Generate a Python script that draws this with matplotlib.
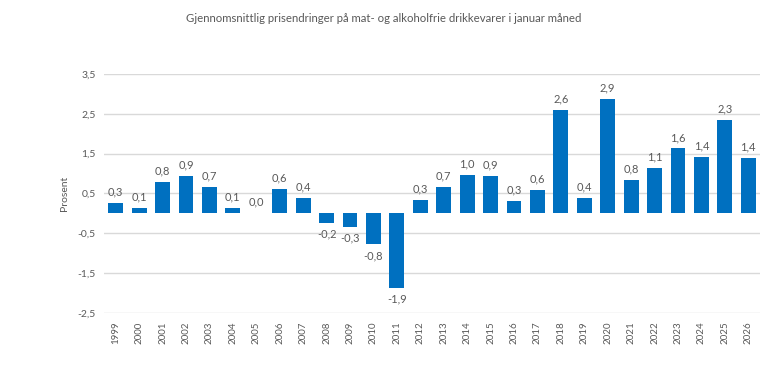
import matplotlib
matplotlib.use("Agg")
import matplotlib.pyplot as plt
import numpy as np

years = [str(y) for y in range(1999, 2027)]
values = [0.27, 0.14, 0.78, 0.95, 0.66, 0.13, 0.0, 0.62, 0.38, -0.24,
          -0.34, -0.78, -1.88, 0.33, 0.66, 0.97, 0.93, 0.31, 0.60, 2.59,
          0.39, 2.88, 0.85, 1.15, 1.63, 1.41, 2.34, 1.40]
labels = ["0,3", "0,1", "0,8", "0,9", "0,7", "0,1", "0,0", "0,6", "0,4", "-0,2",
          "-0,3", "-0,8", "-1,9", "0,3", "0,7", "1,0", "0,9", "0,3", "0,6", "2,6",
          "0,4", "2,9", "0,8", "1,1", "1,6", "1,4", "2,3", "1,4"]
yticks = [-2.5, -1.5, -0.5, 0.5, 1.5, 2.5, 3.5]
title = "Gjennomsnittlig prisendringer på mat- og alkoholfrie drikkevarer i januar måned"

plt.rcParams['font.family'] = ['Lato', 'DejaVu Sans']
txt = '#595959'

fig = plt.figure(figsize=(7.68, 3.68), dpi=100)
ax = fig.add_axes([104/768, 1-313/368, 656/768, (313-74)/368])
x = np.arange(len(years))
ax.bar(x, values, width=0.64, color='#0070C0', zorder=3)
ax.set_xlim(-0.5, len(years)-0.5)
ax.set_ylim(-2.5, 3.5)
ax.set_yticks(yticks)
ax.set_yticklabels([f"{t:.1f}".replace('.', ',') for t in yticks], color=txt, fontsize=7.5)
ax.set_xticks(x)
ax.set_xticklabels(years, rotation=90, color=txt, fontsize=7)
ax.grid(axis='y', color='#d9d9d9', linewidth=1, zorder=0)
ax.tick_params(length=0, pad=6)
for s in ax.spines.values():
    s.set_visible(False)
for xi, v, l in zip(x, values, labels):
    if v >= 0:
        ax.annotate(l, (xi, v), xytext=(0, 4), textcoords='offset points', ha='center', va='bottom', fontsize=8, color=txt)
    else:
        ax.annotate(l, (xi, v), xytext=(0, -4), textcoords='offset points', ha='center', va='top', fontsize=8, color=txt)
ax.set_ylabel("Prosent", color=txt, fontsize=7.5, labelpad=6)
fig.text(0.5, 1-18/368, title, ha='center', va='center', fontsize=8.2, color=txt)
fig.savefig("out.png", dpi=100)
